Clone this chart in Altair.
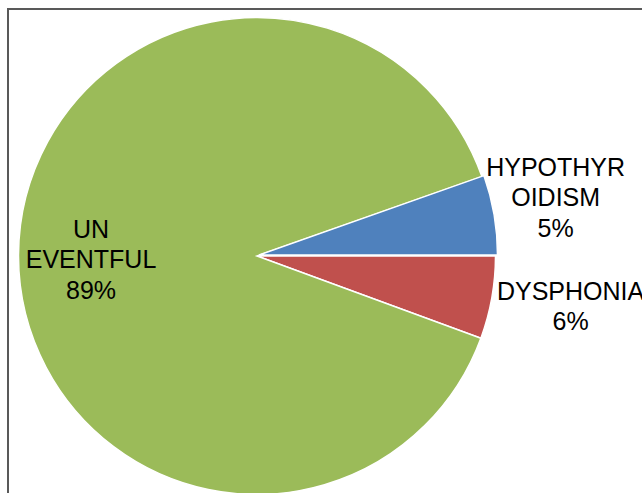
import math
import altair as alt
import pandas as pd

# ---- data (drawing order: clockwise from 3 o'clock) ----
NB = "\u00a0"
categories = ["DYSPHONIA", "UNEVENTFUL", "HYPOTHYROIDISM"]
display_names = ["DYSPHONIA", "UN" + NB * 3 + "\nEVENTFUL", "HYPOTHYR\nOIDISM" + NB * 2]
values = [5.6, 89.0, 5.4]
colors = ["#C0504D", "#9BBB59", "#4F81BD"]

df = pd.DataFrame({"category": categories, "name": display_names, "value": values})
total = float(sum(values))
df["end"] = df["value"].cumsum()
df["start"] = df["end"] - df["value"]
df["mid"] = (df["start"] + df["end"]) / 2
df["label"] = [f"{n}\n{round(v / total * 100):d}%" + NB * 3 for n, v in zip(df["name"], df["value"])]

theta_scale = alt.Scale(domain=[0, total], range=[math.pi / 2, math.pi / 2 + 2 * math.pi])

CX, CY, R = 257, 256, 238.5
# per-slice styling: (center offset x, center offset y, label radius, label dy)
style = {
    "DYSPHONIA": (0, 0, 318.5, -20),
    "UNEVENTFUL": (0, 0, 166, -25),
    "HYPOTHYROIDISM": (2, -1, 303, -37),
}

base = alt.Chart(df)
layers = []

frame = alt.Chart(pd.DataFrame({"a": [0]})).mark_rect(
    filled=False, stroke="#595959", strokeWidth=2
).encode(
    x=alt.value(8), y=alt.value(9), x2=alt.value(700), y2=alt.value(560)
)
layers.append(frame)

for cat, col in zip(categories, colors):
    ox, oy, lr, ldy = style[cat]
    arc = base.transform_filter(alt.datum.category == cat).mark_arc(
        radius=R, stroke="white", strokeWidth=1.5, color=col
    ).encode(
        theta=alt.Theta("start:Q", scale=theta_scale, stack=None),
        theta2="end:Q",
        x=alt.value(CX + ox),
        y=alt.value(CY + oy),
    )
    layers.append(arc)

for cat in categories:
    ox, oy, lr, ldy = style[cat]
    txt = base.transform_filter(alt.datum.category == cat).mark_text(
        radius=lr, dy=ldy, font="Liberation Sans", fontSize=25, lineHeight=30.5,
        lineBreak="\n", align="center", baseline="middle", color="black"
    ).encode(
        theta=alt.Theta("mid:Q", scale=theta_scale, stack=None),
        x=alt.value(CX),
        y=alt.value(CY),
        text="label:N",
    )
    layers.append(txt)

chart = alt.layer(*layers).properties(
    width=642, height=493, padding=0, autosize=alt.AutoSizeParams(type="none")
).configure_view(stroke=None)

chart.save("out.html", embed_options={"renderer": "svg", "actions": False})
